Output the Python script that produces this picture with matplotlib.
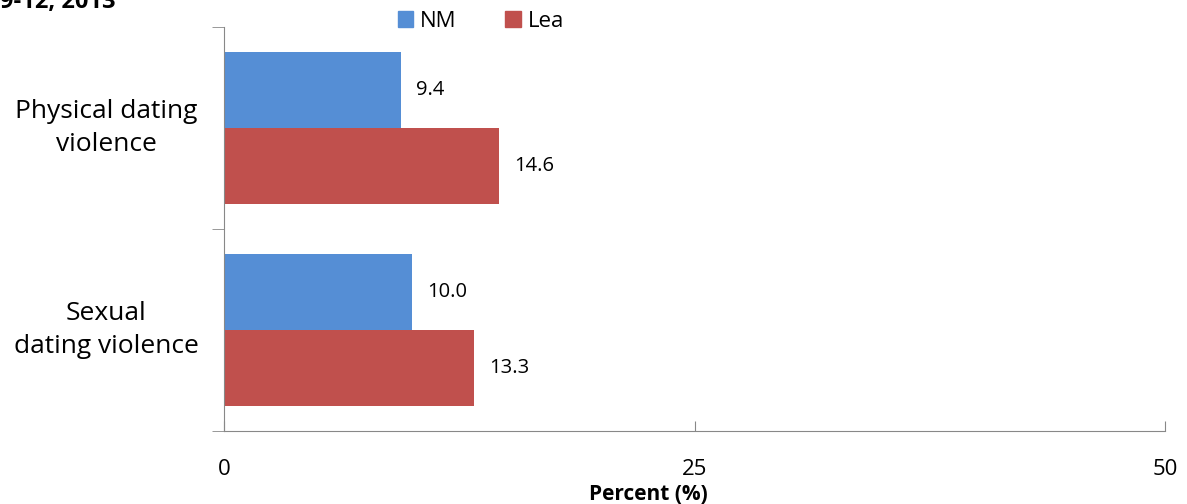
import matplotlib.pyplot as plt
import numpy as np
from matplotlib.patches import Patch

categories = ['Physical dating\nviolence', 'Sexual\ndating violence']
nm = [9.4, 10.0]
lea = [14.6, 13.3]
series_names = ['NM', 'Lea']
colors = ['#558ED5', '#C0504D']
xticks = [0, 25, 50]

plt.rcParams['font.family'] = ['Open Sans', 'DejaVu Sans']

fig = plt.figure(figsize=(11.87, 5.04), dpi=100)
ax = fig.add_axes([224 / 1187, 73 / 504, 941 / 1187, 404 / 504])

y = np.arange(len(categories))
h = 0.376
ax.barh(y - h / 2, nm, height=h, color=colors[0])
ax.barh(y + h / 2, lea, height=h, color=colors[1])

for yi, v in zip(y - h / 2, nm):
    ax.text(v + 0.8, yi, '%.1f' % v, va='center', ha='left', fontsize=14.5)
for yi, v in zip(y + h / 2, lea):
    ax.text(v + 0.8, yi, '%.1f' % v, va='center', ha='left', fontsize=14.5)

ax.set_xlim(0, 50)
ax.set_ylim(1.5, -0.5)
ax.set_xticks(xticks)
ax.set_xticklabels([str(t) for t in xticks], fontsize=16)
ax.tick_params(axis='x', direction='in', length=7, pad=20, color='#888888')

ax.set_yticks(y)
ax.set_yticklabels(categories, fontsize=19, ha='center', va='center',
                   linespacing=1.45)
ax.tick_params(axis='y', which='major', length=0, pad=85)
ax.set_yticks([-0.5, 0.5, 1.5], minor=True)
ax.tick_params(axis='y', which='minor', length=9, color='#888888')

for s in ['top', 'right']:
    ax.spines[s].set_visible(False)
for s in ['left', 'bottom']:
    ax.spines[s].set_color('#888888')

ax.set_xlabel('Percent (%)', fontsize=15, fontweight='bold')
ax.xaxis.set_label_coords(0.451, -0.132)

handles = [Patch(color=c) for c in colors]
fig.legend(handles, series_names, loc='center', bbox_to_anchor=(0.405, 0.958),
           ncol=2, frameon=False, fontsize=16, handlelength=0.7,
           handleheight=0.7, handletextpad=0.3, columnspacing=2.2)

fig.text(0.0, 1 - 8 / 504, '9-12, 2013', fontsize=17, fontweight='bold',
         va='baseline', ha='left')

fig.savefig('out.png', dpi=100)
